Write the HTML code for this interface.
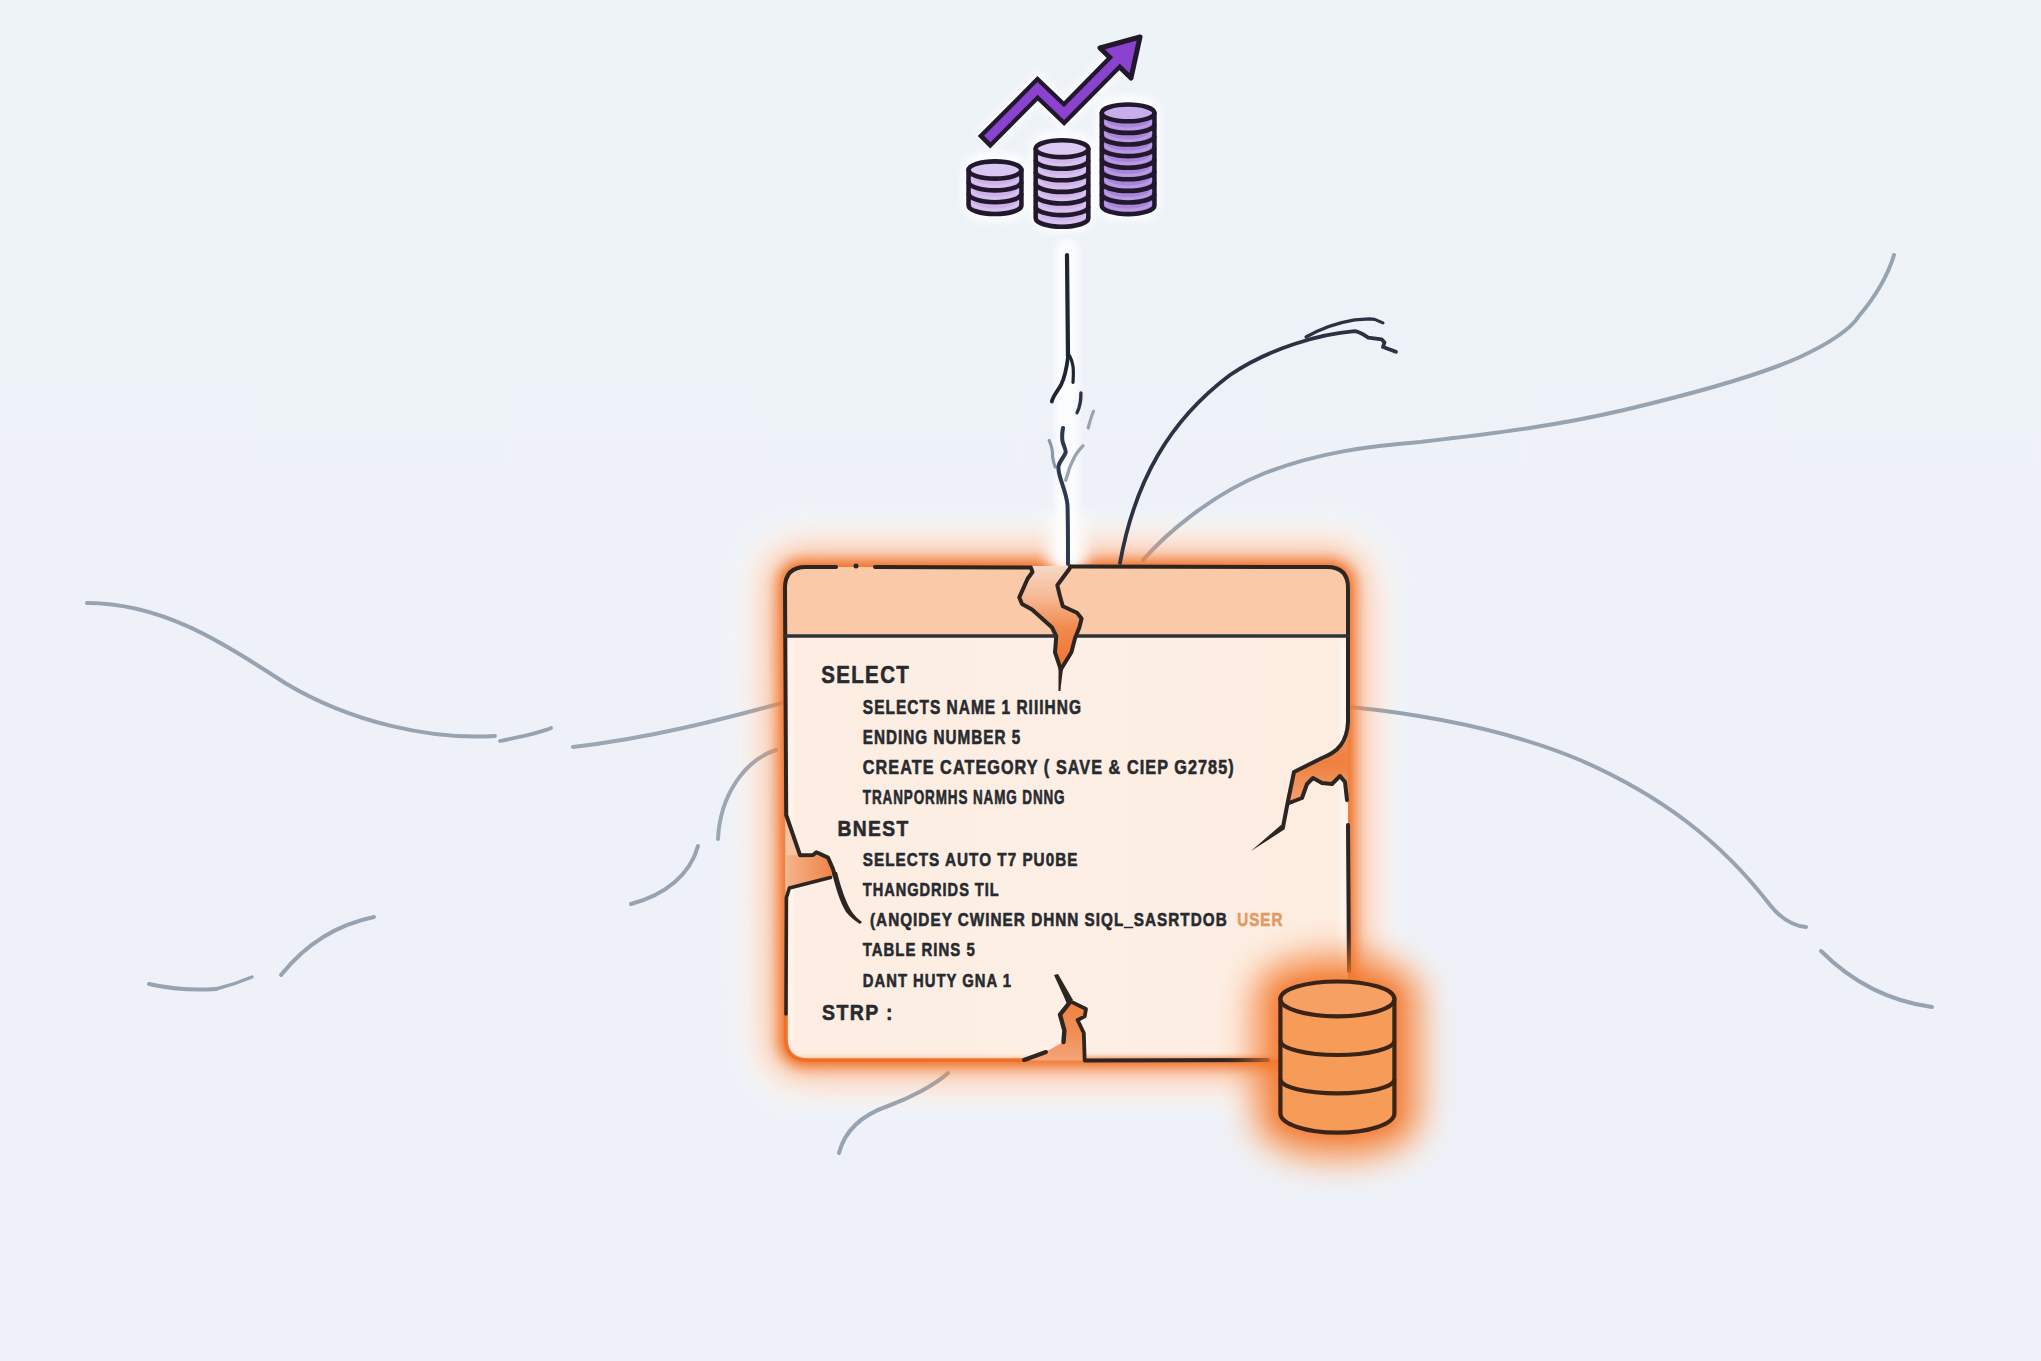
<!DOCTYPE html>
<html><head><meta charset="utf-8">
<style>
html,body{margin:0;padding:0;background:#eef2f8;overflow:hidden;}
svg{display:block;}
text{font-weight:bold;}
</style></head>
<body>
<svg width="2041" height="1361" viewBox="0 0 2041 1361">
<defs>
  <filter id="blur12" filterUnits="userSpaceOnUse" x="0" y="0" width="2041" height="1361"><feGaussianBlur stdDeviation="12"/></filter>
  <filter id="blur6" filterUnits="userSpaceOnUse" x="0" y="0" width="2041" height="1361"><feGaussianBlur stdDeviation="6"/></filter>
  <filter id="blur3" filterUnits="userSpaceOnUse" x="0" y="0" width="2041" height="1361"><feGaussianBlur stdDeviation="3"/></filter>
  <linearGradient id="bg" x1="0" y1="0" x2="0" y2="1">
    <stop offset="0" stop-color="#eef3f8"/>
    <stop offset="1" stop-color="#eef1f8"/>
  </linearGradient>
    <filter id="glowA" filterUnits="userSpaceOnUse" x="0" y="0" width="2041" height="1361"><feGaussianBlur stdDeviation="16"/></filter>
    <filter id="glowB" filterUnits="userSpaceOnUse" x="0" y="0" width="2041" height="1361"><feGaussianBlur stdDeviation="7"/></filter>
    <filter id="glowC" filterUnits="userSpaceOnUse" x="0" y="0" width="2041" height="1361"><feGaussianBlur stdDeviation="3"/></filter>
  <filter id="glowD" filterUnits="userSpaceOnUse" x="0" y="0" width="2041" height="1361"><feGaussianBlur stdDeviation="15"/></filter>
  <filter id="glowE" filterUnits="userSpaceOnUse" x="0" y="0" width="2041" height="1361"><feGaussianBlur stdDeviation="6"/></filter>
  <filter id="glowF" filterUnits="userSpaceOnUse" x="0" y="0" width="2041" height="1361"><feGaussianBlur stdDeviation="2.5"/></filter>
  <filter id="glowH" filterUnits="userSpaceOnUse" x="0" y="0" width="2041" height="1361"><feGaussianBlur stdDeviation="12"/></filter>
</defs>
<rect width="2041" height="1361" fill="url(#bg)"/>

<g id="halo">
  <path d="M785,588 Q785,567 806,567 L1327,567 Q1348,567 1348,588 L1348,1060 L808,1060 Q786,1060 786,1038 Z" fill="#fbf8f6" stroke="#fbf8f6" stroke-width="84" opacity="1" filter="url(#glowH)"/>
  <path d="M1280.4,999 A57,17.4 0 0 1 1394.4,999 L1394.4,1113.3 A57,19.4 0 0 1 1280.4,1113.3 Z" fill="#fbf8f6" stroke="#fbf8f6" stroke-width="80" stroke-linejoin="round" opacity="0.8" filter="url(#glowH)"/>
</g>

<g id="wires" fill="none" stroke-linecap="round">
  <!-- left long wire -->
  <path d="M87,603 C160,603 220,640 285,683 C350,722 430,740 495,736" stroke="#97a3b1" stroke-width="4"/>
  <path d="M500,741 C520,737 540,733 551,728" stroke="#97a3b1" stroke-width="3.8"/>
  <path d="M573,747 C650,738 720,720 782,703" stroke="#9ca7b4" stroke-width="4"/>
  <!-- left lower arc -->
  <path d="M631,904 C665,895 690,875 698,846" stroke="#97a3b1" stroke-width="4"/>
  <path d="M718,839 C720,795 745,760 776,750" stroke="#9ca7b4" stroke-width="4"/>
  <!-- far left bottom -->
  <path d="M149,984 C175,990 200,990 216,989" stroke="#97a3b1" stroke-width="4"/>
  <path d="M216,989 C232,985 245,980 252,977" stroke="#97a3b1" stroke-width="3.4"/>
  <path d="M281,975 C305,945 335,925 374,917" stroke="#97a3b1" stroke-width="4"/>
  <!-- bottom wire -->
  <path d="M839,1153 C845,1130 862,1115 888,1106 C910,1098 935,1085 948,1073" stroke="#97a3b1" stroke-width="4"/>
  <!-- right lower wire -->
  <path d="M1350,707 C1440,716 1520,735 1580,760 C1660,795 1720,840 1770,905 C1782,920 1795,926 1806,927" stroke="#97a3b1" stroke-width="4"/>
  <path d="M1821,951 C1845,975 1880,1000 1932,1007" stroke="#97a3b1" stroke-width="4"/>
  <!-- right upper long gray wire -->
  <path d="M1143,560 C1165,535 1210,495 1265,473 C1320,452 1370,446 1420,442 C1500,433 1560,425 1624,410 C1700,392 1760,375 1800,357 C1830,343 1850,330 1859,316 C1875,297 1888,275 1894,255" stroke="#97a3b1" stroke-width="4"/>
</g>

<g id="card">
  <defs>
    <linearGradient id="crackTop" x1="0" y1="0" x2="0" y2="1">
      <stop offset="0" stop-color="#f8d8c6"/>
      <stop offset="0.3" stop-color="#f6b995"/>
      <stop offset="0.6" stop-color="#f18a4e"/>
      <stop offset="1" stop-color="#ee7430"/>
    </linearGradient>
    <linearGradient id="bodyGrad" x1="0" y1="0" x2="1" y2="0">
      <stop offset="0" stop-color="#fdede2"/>
      <stop offset="0.5" stop-color="#fdefe5"/>
      <stop offset="1" stop-color="#fdece0"/>
    </linearGradient>
    <linearGradient id="crackBot" x1="0" y1="0" x2="0" y2="1">
      <stop offset="0" stop-color="#ef8240"/>
      <stop offset="0.6" stop-color="#f29058"/>
      <stop offset="1" stop-color="#f5a57a"/>
    </linearGradient>
    <linearGradient id="crackLeft" x1="0" y1="0" x2="1" y2="0">
      <stop offset="0" stop-color="#f6b48c"/>
      <stop offset="1" stop-color="#ef8142"/>
    </linearGradient>
    <linearGradient id="crackRight" x1="0" y1="0" x2="0" y2="1">
      <stop offset="0" stop-color="#f3935a"/>
      <stop offset="0.5" stop-color="#ef8040"/>
      <stop offset="1" stop-color="#f4a070"/>
    </linearGradient>
    <clipPath id="cardClip">
      <path d="M785,588 Q785,567 806,567 L1327,567 Q1348,567 1348,588 L1348,1060 L808,1060 Q786,1060 786,1038 Z"/>
    </clipPath>
  </defs>

  <!-- outer glow -->
  <path d="M785,588 Q785,567 806,567 L1327,567 Q1348,567 1348,588 L1348,1060 L808,1060 Q786,1060 786,1038 Z" fill="none" stroke="#f5925a" stroke-width="46" opacity="0.48" filter="url(#glowD)"/>
  <path d="M785,588 Q785,567 806,567 L1327,567 Q1348,567 1348,588 L1348,1060 L808,1060 Q786,1060 786,1038 Z" fill="none" stroke="#f27a36" stroke-width="18" opacity="0.85" filter="url(#glowE)"/>
  <path d="M785,588 Q785,567 806,567 L1327,567 Q1348,567 1348,588 L1348,1060 L808,1060 Q786,1060 786,1038 Z" fill="none" stroke="#ef7026" stroke-width="5" opacity="0.75" filter="url(#glowF)"/>
  <rect x="1046" y="515" width="42" height="52" fill="#fbf8f6" opacity="0.9" filter="url(#glowE)"/>
<g id="wirestop" fill="none" stroke-linecap="round">
  <!-- soft white halo around vertical wire -->
  <path d="M1067,250 L1067,566" stroke="#ffffff" stroke-width="22" opacity="0.8" filter="url(#glowC)"/>
  <!-- dark arc -->
  <path d="M1120,563 C1135,480 1170,420 1230,375 C1270,348 1320,334 1354.7,331.2 C1360,332 1364,335 1368.2,337.6 L1381.8,339.4 L1384.5,342.4 L1383,347 L1395.9,351.8" stroke="#2a3243" stroke-width="3.8" stroke-linejoin="round"/>
  <path d="M1306,337 C1320,329 1335,323 1354.7,319.8 L1369.4,318.8 L1374.7,319.4 L1382.9,322.9" stroke="#2a3243" stroke-width="3.2" stroke-linejoin="round"/>
  <!-- vertical wire -->
  <path d="M1067,255 L1068,356" stroke="#1f2633" stroke-width="4.2"/>
  <path d="M1068.3,355 C1067,365 1066,375 1061,385 C1057,392 1053,396 1051.8,401.5" stroke="#1f2633" stroke-width="3.8"/>
  <path d="M1069.7,356 C1073,362 1074,368 1073,382.3" stroke="#1f2633" stroke-width="3.2"/>
  <path d="M1080.9,392.9 C1081,398 1080.5,406 1077,412.7" stroke="#2b3344" stroke-width="3.4"/>
  <path d="M1093.5,411.4 C1091,417 1089.5,423 1088.2,428" stroke="#9aa4b0" stroke-width="3.2"/>
  <path d="M1049.2,440.5 C1051,445 1053,449 1052.5,456.4 C1053,460 1054,464 1055.1,467" stroke="#8c98a6" stroke-width="3.2"/>
  <path d="M1082.9,445.8 C1079,450 1075,455 1073.6,459 C1071,464 1069,469 1068.3,472.2 L1065.7,480.2" stroke="#9aa4b0" stroke-width="3.4"/>
  <path d="M1063,428 C1062,433 1062,437 1062.4,440.5 C1063,445 1066,449 1065.7,452.4 C1064,458 1058,462 1058.4,468 C1058.5,478 1066,490 1067.5,505 C1068,520 1068,540 1068,564" stroke="#2b3a4f" stroke-width="4"/>
</g>
  <!-- card fill -->
  <path d="M785,588 Q785,567 806,567 L1327,567 Q1348,567 1348,588 L1348,1060 L808,1060 Q786,1060 786,1038 Z" fill="url(#bodyGrad)"/>
  <path d="M785,636 L785,588 Q785,567 806,567 L1327,567 Q1348,567 1348,588 L1348,636 Z" fill="#fac9a8"/>

  <!-- inner white rim -->
  <g clip-path="url(#cardClip)">
    <path d="M1343,640 L1343,1055" stroke="#fffdf8" stroke-width="5" opacity="0.85" fill="none" filter="url(#glowF)"/>
    <path d="M791,640 L791,1040" stroke="#fffdf8" stroke-width="4" opacity="0.6" fill="none" filter="url(#glowF)"/>
  </g>
  <!-- inner edge glow (bottom) -->
  <g clip-path="url(#cardClip)">
    <path d="M760,1064 L1300,1064" stroke="#ee7428" stroke-width="8" fill="none" filter="url(#glowC)"/>
    <path d="M780,1000 L780,1066" stroke="#f08040" stroke-width="6" fill="none" filter="url(#glowC)"/>
  </g>

  <!-- crack fills -->
  <path d="M1030.9,566 L1032.5,572 L1027.6,578.7 L1019.3,597.4 L1022,604 L1032,609.5 L1051.8,627.2 L1056.2,636 L1055.6,645 L1055,652.3 L1060.8,669.5 L1071.4,652.3 L1075,638.2 L1079.4,627.2 L1081.6,618.4 L1077,612.8 L1062.8,606.2 L1060,596.3 L1057.3,585.3 L1069.5,568.7 L1071,566 Z" fill="url(#crackTop)"/>
  <path d="M786,815 L800,855.2 L813,855 L816.4,852.3 L828,857.6 L833,869 L835,876 L830.5,877.6 L789.4,888 L786.4,897.5 Z" fill="url(#crackLeft)"/>
  <path d="M786,700 L786,815 L800,855.2 L786,855.2 Z" fill="#f9c7a6" opacity="0.8"/>
  <path d="M1348,722 C1347,742 1338,752 1322,758 L1294,772 L1288,801 L1289,803 L1302,798 L1307,784 L1313,778 L1322,783 L1332,784 L1340,776 L1345,782 L1347,803 L1348,803 Z" fill="url(#crackRight)"/>
  <path d="M1069.2,1003.2 L1060,1014.7 L1064.4,1030.5 L1063.5,1042 L1045.9,1051.7 L1024,1060.5 L1084.7,1060.5 L1083.8,1033 L1077.6,1020 L1084.7,1016.4 L1086,1009 L1070.5,1001.4 Z" fill="url(#crackBot)"/>

  <path d="M786,1012 L786,1038 Q786,1060 808,1060 L1030,1060" fill="none" stroke="#ec6c22" stroke-width="3.5" opacity="0.9"/>
  <path d="M1084,1060 L1270,1060" fill="none" stroke="#ef7a30" stroke-width="6" opacity="0.6" filter="url(#glowF)"/>
  <!-- outlines -->
  <g fill="none" stroke="#2d2522" stroke-width="4" stroke-linejoin="round" stroke-linecap="round">
    <path d="M836,567 L806,567 Q785,567 785,588 L786.2,815 L800,855.2 L813,855 L816.4,852.3 L828,857.6 L833,869 L835,876"/>
    <path d="M875,567 L1030.9,567.6 L1032.5,572 L1027.6,578.7 L1019.3,597.4 L1022,604 L1032,609.5 L1051.8,627.2 L1056.2,636 L1055.6,645 L1055,652.3 L1060.8,669.5"/>
    <path d="M1070.6,566.5 L1327,567 Q1348,567 1348,588 L1348,722 C1347,742 1338,752 1322,758 L1294,772 L1288,801 L1283,827"/>
    <path d="M1289,803 L1302,798 L1307,784 L1313,778 L1322,783 L1332,784 L1340,776 L1345,782 L1347,800"/>
    <path d="M1348,825 L1349,971"/>
    <path d="M785,636 L1055,636" stroke="#2f3337" stroke-width="3.6"/>
    <path d="M1077,636 L1348,636" stroke="#2f3337" stroke-width="3.6"/>
    <path d="M1070.6,566.5 L1069.5,568.7 L1057.3,585.3 L1060,596.3 L1062.8,606.2 L1077,612.8 L1081.6,618.4 L1079.4,627.2 L1075,638.2 L1071.4,652.3 L1060.8,669.5"/>
    <path d="M830.5,877.6 L789.4,888 L786.4,897.5 L786,1014" stroke-width="3.6"/>
    <path d="M1070.5,1001.4 L1086,1009 L1084.7,1016.4 L1077.6,1020 L1083.8,1033 L1084.7,1060.5 L1268,1060" stroke-width="3.8"/>
    <path d="M1069.2,1003.2 L1060,1014.7 L1064.4,1030.5 L1063.5,1042" stroke-width="4.4"/>
    <path d="M1024,1060 L1046,1052" stroke-width="4"/>
  </g>
  <!-- tapered crack tips -->
  <g fill="#2d2522">
    <path d="M1058.6,668 L1063,669 C1062,677 1061,684 1060.5,691 L1058.5,691 C1058.5,684 1058.5,676 1058.6,668 Z"/>
    
    <path d="M832,873 L837,872 C841,888 846,903 852,912 C855,916 858,919 862,922 L860,924 C855,921 850,917 846,912 C840,902 836,889 832,873 Z"/>
    <path d="M1281,825 L1285,829 L1251,851 Z"/>
    <path d="M1054,975 L1058,974 C1063,983 1068,991 1073,1000 L1067,1004 C1063,994 1058,984 1054,975 Z"/>
  </g>
  <circle cx="856" cy="566" r="2.5" fill="#2d2522"/>
</g>

<g id="text" style="font-family:'Liberation Sans',sans-serif;font-weight:bold" fill="#272a2e" stroke="#272a2e" stroke-width="0.6" stroke-linejoin="round">
<g transform="scale(1.0,1)">
<text x="821.20" y="683.4" font-size="23.18" textLength="89.0" lengthAdjust="spacingAndGlyphs" letter-spacing="1.6">SELECT</text>
<text x="862.80" y="713.6" font-size="19.55" textLength="219.2" lengthAdjust="spacingAndGlyphs" letter-spacing="1.3">SELECTS NAME 1 RIIIHNG</text>
<text x="862.80" y="743.8" font-size="19.55" textLength="158.5" lengthAdjust="spacingAndGlyphs" letter-spacing="1.3">ENDING NUMBER 5</text>
<text x="862.80" y="774.0" font-size="19.55" textLength="371.9" lengthAdjust="spacingAndGlyphs" letter-spacing="1.3">CREATE CATEGORY ( SAVE &amp; CIEP G2785)</text>
<text x="862.80" y="804.1" font-size="19.55" textLength="202.7" lengthAdjust="spacingAndGlyphs" letter-spacing="1.3">TRANPORMHS NAMG DNNG</text>
<text x="837.60" y="836.0" font-size="22.91" textLength="72.0" lengthAdjust="spacingAndGlyphs" letter-spacing="1.6">BNEST</text>
<text x="862.80" y="866.4" font-size="19.27" textLength="215.6" lengthAdjust="spacingAndGlyphs" letter-spacing="1.3">SELECTS AUTO T7 PU0BE</text>
<text x="862.80" y="896.0" font-size="19.27" textLength="136.9" lengthAdjust="spacingAndGlyphs" letter-spacing="1.3">THANGDRIDS TIL</text>
<text x="870.00" y="926.4" font-size="19.27" textLength="357.7" lengthAdjust="spacingAndGlyphs" letter-spacing="1.3">(ANQIDEY CWINER DHNN SIQL_SASRTDOB</text>
<text x="1237.30" y="926.4" font-size="19.27" textLength="46.1" lengthAdjust="spacingAndGlyphs" letter-spacing="1.3" fill="#e39a62" stroke="#e39a62">USER</text>
<text x="862.80" y="956.4" font-size="19.27" textLength="112.9" lengthAdjust="spacingAndGlyphs" letter-spacing="1.3">TABLE RINS 5</text>
<text x="862.80" y="987.2" font-size="19.27" textLength="149.3" lengthAdjust="spacingAndGlyphs" letter-spacing="1.3">DANT HUTY GNA 1</text>
<text x="822.00" y="1020.0" font-size="22.35" textLength="72.0" lengthAdjust="spacingAndGlyphs" letter-spacing="1.6">STRP :</text>
</g></g>

<g id="db">
  <!-- database -->
  <path d="M1280.4,999 A57,17.4 0 0 1 1394.4,999 L1394.4,1113.3 A57,19.4 0 0 1 1280.4,1113.3 Z" fill="#f37a2f" stroke="#f37a2f" stroke-width="56" stroke-linejoin="round" opacity="0.8" filter="url(#glowA)"/>
  <path d="M1280.4,999 A57,17.4 0 0 1 1394.4,999 L1394.4,1113.3 A57,19.4 0 0 1 1280.4,1113.3 Z" fill="none" stroke="#f2752c" stroke-width="10" opacity="0.8" filter="url(#glowB)"/>
  <path d="M1280.4,999 L1280.4,1113.3 A57,19.4 0 0 0 1394.4,1113.3 L1394.4,999 Z" fill="#f79b58" stroke="#3a2418" stroke-width="4.2" stroke-linejoin="round"/>
  <path d="M1280.4,1040.5 A57,14.5 0 0 0 1394.4,1040.5" fill="none" stroke="#3a2418" stroke-width="4.2"/>
  <path d="M1280.4,1079.3 A57,14 0 0 0 1394.4,1079.3" fill="none" stroke="#3a2418" stroke-width="4.2"/>
  <ellipse cx="1337.4" cy="998.9" rx="57" ry="17.4" fill="#f7a063" stroke="#3a2418" stroke-width="4.2"/>
</g>

<g id="coins">
<g opacity="0.7" filter="url(#blur3)">
<path d="M984,142.3 L1037.6,88.4 L1064,113.6 L1120,58" fill="none" stroke="#ffffff" stroke-width="26"/>
<rect x="962" y="152" width="66" height="70" rx="20" fill="#fff"/>
<rect x="1029" y="131" width="66" height="102" rx="20" fill="#fff"/>
<rect x="1095" y="95" width="66" height="126" rx="20" fill="#fff"/>
</g>
<path d="M984,142.3 L1037.6,88.4 L1064,113.6 L1115,62" fill="none" stroke="#22182c" stroke-width="17.6" stroke-linejoin="miter" stroke-miterlimit="4"/>
<path d="M1140,37 L1100,48 L1131,78 Z" fill="#8a42cf" stroke="#22182c" stroke-width="5" stroke-linejoin="round"/>
<path d="M987.3,139 L1037.6,88.4 L1064,113.6 L1118,59" fill="none" stroke="#8a42cf" stroke-width="9" stroke-linejoin="miter" stroke-miterlimit="4"/>
<path d="M968.6,170.0 L968.6,205.4 A26.4,8.6 0 0 0 1021.4,205.4 L1021.4,170.0 Z" fill="#cdb2ea" stroke="#22182c" stroke-width="4.6" stroke-linejoin="round"/>
<path d="M971.6,177.7 A23.4,8.6 0 0 0 1018.4,177.7" fill="none" stroke="#ffffff" stroke-opacity="0.18" stroke-width="3"/>
<path d="M971.6,189.5 A23.4,8.6 0 0 0 1018.4,189.5" fill="none" stroke="#ffffff" stroke-opacity="0.18" stroke-width="3"/>
<path d="M971.6,201.3 A23.4,8.6 0 0 0 1018.4,201.3" fill="none" stroke="#ffffff" stroke-opacity="0.18" stroke-width="3"/>
<path d="M968.6,181.8 A26.4,8.6 0 0 0 1021.4,181.8" fill="none" stroke="#22182c" stroke-width="4.6"/>
<path d="M968.6,193.6 A26.4,8.6 0 0 0 1021.4,193.6" fill="none" stroke="#22182c" stroke-width="4.6"/>
<ellipse cx="995.0" cy="170.0" rx="26.4" ry="8.6" fill="#dac6f2" stroke="#22182c" stroke-width="4.6"/>
<path d="M1035.7,148.7 L1035.7,218.3 A26.3,8.4 0 0 0 1088.3,218.3 L1088.3,148.7 Z" fill="#cfb5eb" stroke="#22182c" stroke-width="4.6" stroke-linejoin="round"/>
<path d="M1038.7,156.3 A23.3,8.4 0 0 0 1085.3,156.3" fill="none" stroke="#ffffff" stroke-opacity="0.18" stroke-width="3"/>
<path d="M1038.7,167.9 A23.3,8.4 0 0 0 1085.3,167.9" fill="none" stroke="#ffffff" stroke-opacity="0.18" stroke-width="3"/>
<path d="M1038.7,179.5 A23.3,8.4 0 0 0 1085.3,179.5" fill="none" stroke="#ffffff" stroke-opacity="0.18" stroke-width="3"/>
<path d="M1038.7,191.1 A23.3,8.4 0 0 0 1085.3,191.1" fill="none" stroke="#ffffff" stroke-opacity="0.18" stroke-width="3"/>
<path d="M1038.7,202.7 A23.3,8.4 0 0 0 1085.3,202.7" fill="none" stroke="#ffffff" stroke-opacity="0.18" stroke-width="3"/>
<path d="M1038.7,214.3 A23.3,8.4 0 0 0 1085.3,214.3" fill="none" stroke="#ffffff" stroke-opacity="0.18" stroke-width="3"/>
<path d="M1035.7,160.3 A26.3,8.4 0 0 0 1088.3,160.3" fill="none" stroke="#22182c" stroke-width="4.6"/>
<path d="M1035.7,171.9 A26.3,8.4 0 0 0 1088.3,171.9" fill="none" stroke="#22182c" stroke-width="4.6"/>
<path d="M1035.7,183.5 A26.3,8.4 0 0 0 1088.3,183.5" fill="none" stroke="#22182c" stroke-width="4.6"/>
<path d="M1035.7,195.1 A26.3,8.4 0 0 0 1088.3,195.1" fill="none" stroke="#22182c" stroke-width="4.6"/>
<path d="M1035.7,206.7 A26.3,8.4 0 0 0 1088.3,206.7" fill="none" stroke="#22182c" stroke-width="4.6"/>
<ellipse cx="1062.0" cy="148.7" rx="26.3" ry="8.4" fill="#dccaf3" stroke="#22182c" stroke-width="4.6"/>
<path d="M1101.8,112.9 L1101.8,205.7 A26.3,8.4 0 0 0 1154.4,205.7 L1154.4,112.9 Z" fill="#a985da" stroke="#22182c" stroke-width="4.6" stroke-linejoin="round"/>
<path d="M1104.8,120.5 A23.3,8.4 0 0 0 1151.4,120.5" fill="none" stroke="#ffffff" stroke-opacity="0.18" stroke-width="3"/>
<path d="M1104.8,132.1 A23.3,8.4 0 0 0 1151.4,132.1" fill="none" stroke="#ffffff" stroke-opacity="0.18" stroke-width="3"/>
<path d="M1104.8,143.7 A23.3,8.4 0 0 0 1151.4,143.7" fill="none" stroke="#ffffff" stroke-opacity="0.18" stroke-width="3"/>
<path d="M1104.8,155.3 A23.3,8.4 0 0 0 1151.4,155.3" fill="none" stroke="#ffffff" stroke-opacity="0.18" stroke-width="3"/>
<path d="M1104.8,166.9 A23.3,8.4 0 0 0 1151.4,166.9" fill="none" stroke="#ffffff" stroke-opacity="0.18" stroke-width="3"/>
<path d="M1104.8,178.5 A23.3,8.4 0 0 0 1151.4,178.5" fill="none" stroke="#ffffff" stroke-opacity="0.18" stroke-width="3"/>
<path d="M1104.8,190.1 A23.3,8.4 0 0 0 1151.4,190.1" fill="none" stroke="#ffffff" stroke-opacity="0.18" stroke-width="3"/>
<path d="M1104.8,201.7 A23.3,8.4 0 0 0 1151.4,201.7" fill="none" stroke="#ffffff" stroke-opacity="0.18" stroke-width="3"/>
<path d="M1101.8,124.5 A26.3,8.4 0 0 0 1154.4,124.5" fill="none" stroke="#22182c" stroke-width="4.6"/>
<path d="M1101.8,136.1 A26.3,8.4 0 0 0 1154.4,136.1" fill="none" stroke="#22182c" stroke-width="4.6"/>
<path d="M1101.8,147.7 A26.3,8.4 0 0 0 1154.4,147.7" fill="none" stroke="#22182c" stroke-width="4.6"/>
<path d="M1101.8,159.3 A26.3,8.4 0 0 0 1154.4,159.3" fill="none" stroke="#22182c" stroke-width="4.6"/>
<path d="M1101.8,170.9 A26.3,8.4 0 0 0 1154.4,170.9" fill="none" stroke="#22182c" stroke-width="4.6"/>
<path d="M1101.8,182.5 A26.3,8.4 0 0 0 1154.4,182.5" fill="none" stroke="#22182c" stroke-width="4.6"/>
<path d="M1101.8,194.1 A26.3,8.4 0 0 0 1154.4,194.1" fill="none" stroke="#22182c" stroke-width="4.6"/>
<ellipse cx="1128.1" cy="112.9" rx="26.3" ry="8.4" fill="#c8adec" stroke="#22182c" stroke-width="4.6"/>
</g>

</svg>
</body></html>
